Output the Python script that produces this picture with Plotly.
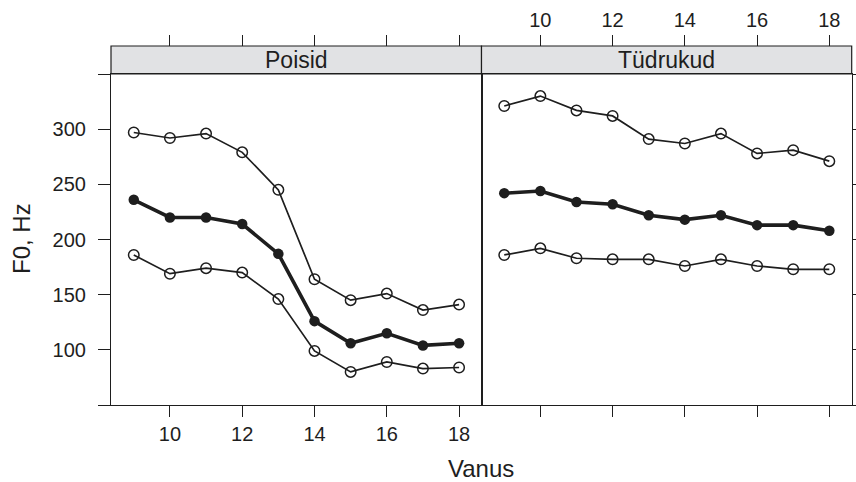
import plotly.graph_objects as go

ages = [9, 10, 11, 12, 13, 14, 15, 16, 17, 18]
boys_upper = [297, 292, 296, 279, 245, 164, 145, 151, 136, 141]
boys_mean = [236, 220, 220, 214, 187, 126, 106, 115, 104, 106]
boys_lower = [186, 169, 174, 170, 146, 99, 80, 89, 83, 84]
girls_upper = [321, 330, 317, 312, 291, 287, 296, 278, 281, 271]
girls_mean = [242, 244, 234, 232, 222, 218, 222, 213, 213, 208]
girls_lower = [186, 192, 183, 182, 182, 176, 182, 176, 173, 173]
panel_titles = ["Poisid", "Tüdrukud"]
x_ticks = [10, 12, 14, 16, 18]
y_ticks = [50, 100, 150, 200, 250, 300, 350]
y_ticktext = ["", "100", "150", "200", "250", "300", ""]

W, H = 856, 482
px = lambda v: v / W
py = lambda v: (H - v) / H

x0, x1, x2 = px(111), px(481.5), px(851.7)
yb, yt, ys = py(405), py(74), py(46)

INK = "#1e1e1e"
FONT = "Liberation Sans, Arial, sans-serif"

fig = go.Figure()

def add_group(xa, ya, upper, mean, lower):
    for vals in (upper, lower):
        fig.add_trace(go.Scatter(
            x=ages, y=vals, xaxis=xa, yaxis=ya, mode="lines+markers",
            line=dict(color=INK, width=1.7),
            marker=dict(symbol="circle-open", size=10.5, color=INK, line=dict(width=1.5)),
            showlegend=False, hoverinfo="x+y"))
    fig.add_trace(go.Scatter(
        x=ages, y=mean, xaxis=xa, yaxis=ya, mode="lines+markers",
        line=dict(color=INK, width=3.6),
        marker=dict(symbol="circle", size=10.5, color=INK),
        showlegend=False, hoverinfo="x+y"))

add_group("x", "y", boys_upper, boys_mean, boys_lower)
add_group("x2", "y2", girls_upper, girls_mean, girls_lower)

xr = [8.37, 18.62]
yr = [50, 350]
tickfont = dict(family=FONT, size=20, color=INK)

common_x = dict(range=xr, tickvals=x_ticks, ticks="outside", ticklen=11, tickwidth=1.2,
                tickcolor=INK, showgrid=False, zeroline=False, fixedrange=True, automargin=False)
common_y = dict(range=yr, tickvals=y_ticks, ticks="outside", ticklen=12, tickwidth=1.2,
                tickcolor=INK, showgrid=False, zeroline=False, fixedrange=True, automargin=False)

fig.update_layout(
    width=W, height=H,
    margin=dict(l=0, r=0, t=0, b=0, pad=0),
    paper_bgcolor="white", plot_bgcolor="white",
    font=dict(family=FONT, color=INK),
    xaxis=dict(domain=[x0, x1], anchor="y", side="bottom", showline=True, linecolor=INK,
               linewidth=1.2, mirror=True, tickfont=tickfont, ticktext=[str(t) for t in x_ticks],
               **common_x),
    xaxis2=dict(domain=[x1, x2], anchor="y2", side="bottom", showline=True, linecolor=INK,
                linewidth=1.2, mirror=True, showticklabels=False, **common_x),
    xaxis3=dict(overlaying="x", anchor="free", position=ys, side="top", showline=False,
                showticklabels=False, **common_x),
    xaxis4=dict(overlaying="x2", anchor="free", position=ys, side="top", showline=False,
                showticklabels=True, tickfont=tickfont, **common_x),
    yaxis=dict(domain=[yb, yt], anchor="x", side="left", showline=True, linecolor=INK,
               linewidth=1.2, mirror=True, ticktext=y_ticktext, tickfont=tickfont,
               ticklabelstandoff=8, **common_y),
    yaxis2=dict(domain=[yb, yt], anchor="x2", side="right", showline=True, linecolor=INK,
                linewidth=1.2, mirror=True, showticklabels=False, **common_y),
)

# invisible traces so the overlay (top) axes render
fig.add_trace(go.Scatter(x=[None], y=[None], xaxis="x3", yaxis="y", showlegend=False, hoverinfo="skip"))
fig.add_trace(go.Scatter(x=[None], y=[None], xaxis="x4", yaxis="y2", showlegend=False, hoverinfo="skip"))

# strips
for (a, b), title in zip([(x0, x1), (x1, x2)], panel_titles):
    fig.add_shape(type="rect", xref="paper", yref="paper", x0=a, x1=b, y0=yt, y1=ys,
                  fillcolor="#e1e2e4", line=dict(color=INK, width=1.2), layer="below")
    fig.add_annotation(x=(a + b) / 2, y=(yt + ys) / 2, xref="paper", yref="paper",
                       text=title, showarrow=False, xanchor="center", yanchor="middle",
                       font=dict(family=FONT, size=23, color=INK))

fig.add_annotation(x=px(481), y=py(468), xref="paper", yref="paper", text="Vanus",
                   showarrow=False, xanchor="center", yanchor="middle",
                   font=dict(family=FONT, size=24, color=INK))
fig.add_annotation(x=px(21), y=py(239), xref="paper", yref="paper", text="F0, Hz",
                   showarrow=False, textangle=-90, xanchor="center", yanchor="middle",
                   font=dict(family=FONT, size=24, color=INK))

fig.write_html("out.html")
